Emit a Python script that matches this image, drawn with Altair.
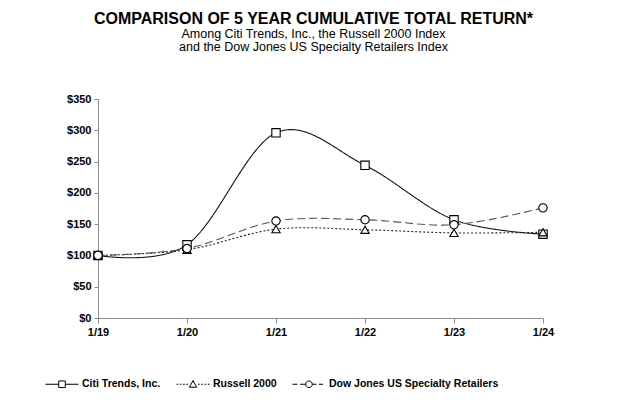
import altair as alt
import pandas as pd

periods = ["1/19", "1/20", "1/21", "1/22", "1/23", "1/24"]
series_names = ["Citi Trends, Inc.", "Russell 2000", "Dow Jones US Specialty Retailers"]
citi = [100, 117, 296, 244, 157, 134]
russell = [100, 109, 142, 141, 136, 137]
dow = [100, 111, 155, 157, 149, 176]
y_ticks = [0, 50, 100, 150, 200, 250, 300, 350]

rows = []
for name, vals in zip(series_names, [citi, russell, dow]):
    for p, v in zip(periods, vals):
        rows.append({"period": p, "series": name, "value": v})
df = pd.DataFrame(rows)

FONT = "Liberation Sans"

x = alt.X("period:N", sort=periods, scale=alt.Scale(type="point", padding=0),
          axis=alt.Axis(title=None, labelAngle=0, labelFont=FONT, labelFontWeight="bold",
                        labelFontSize=11, labelColor="black", domainColor="#8c8c8c",
                        tickColor="#8c8c8c", tickSize=5, labelPadding=3))
y = alt.Y("value:Q", scale=alt.Scale(domain=[0, 350], nice=False, zero=True),
          axis=alt.Axis(title=None, values=y_ticks, labelExpr="'$' + datum.value",
                        labelFont=FONT, labelFontWeight="bold", labelFontSize=11,
                        labelColor="black", domainColor="#8c8c8c", tickColor="#8c8c8c",
                        tickSize=4, labelPadding=3, grid=False))

base = alt.Chart(df)

lines = base.mark_line(interpolate="cardinal", strokeWidth=1.1).encode(
    x=x, y=y,
    color=alt.Color("series:N", sort=series_names,
                    scale=alt.Scale(domain=series_names, range=["#111111", "#222222", "#555555"]),
                    legend=None),
    strokeDash=alt.StrokeDash("series:N", sort=series_names,
                              scale=alt.Scale(domain=series_names, range=[[1, 0], [2, 2], [8, 4]]),
                              legend=None),
)

markers = base.mark_point(filled=True, fill="white", stroke="black", strokeWidth=1.1, size=70, opacity=1).encode(
    x=x, y=y,
    shape=alt.Shape("series:N", sort=series_names,
                    scale=alt.Scale(domain=series_names, range=["square", "triangle-up", "circle"]),
                    legend=None),
)

legend_paths = [
    "M-1,0H-0.2M0.2,0H1M-0.2,-0.2H0.2V0.2H-0.2Z",
    "M-1,0H-0.9M-0.8,0H-0.7M-0.6,0H-0.5M-0.4,0H-0.3M0.3,0H0.4M0.5,0H0.6M0.7,0H0.8M0.9,0H1M0,-0.22L0.22,0.18H-0.22Z",
    "M-1,0H-0.7M-0.55,0H-0.2M0.2,0H0.45M0.6,0H0.85M0.2,0A0.2,0.2 0 1 1 -0.2,0A0.2,0.2 0 1 1 0.2,0",
]

legend_layer = base.mark_point(opacity=0, filled=False).encode(
    x=x, y=y,
    shape=alt.Shape("series:N", sort=series_names,
                    scale=alt.Scale(domain=series_names, range=legend_paths),
                    legend=alt.Legend(title=None, orient="none", direction="horizontal",
                                      legendX=-53, legendY=268,
                                      symbolSize=1089, symbolOpacity=1,
                                      symbolStrokeColor="black", symbolFillColor="white",
                                      symbolStrokeWidth=1, labelFont=FONT,
                                      labelFontWeight="bold", labelFontSize=10.5,
                                      labelLimit=400,
                                      labelColor="black", columnPadding=13, labelOffset=3)),
)

chart = alt.layer(lines, markers, legend_layer).resolve_scale(shape="independent").properties(
    width=445, height=219,
    autosize=alt.AutoSizeParams(type="none"),
    padding={"left": 90, "top": 91, "right": 73, "bottom": 81},
    title=alt.Title(
        "COMPARISON OF 5 YEAR CUMULATIVE TOTAL RETURN*",
        subtitle=["Among Citi Trends, Inc.,  the Russell 2000 Index",
                  "and the Dow Jones US Specialty Retailers Index"],
        font=FONT, fontSize=16, fontWeight="bold", color="black",
        subtitleFont=FONT, subtitleFontSize=12.5, subtitleColor="black",
        subtitlePadding=1, subtitleLineHeight=13, offset=40, anchor="middle", dx=-7,
    ),
).configure_view(stroke=None)

chart.save("out.html", embed_options={"renderer": "svg", "actions": False})
